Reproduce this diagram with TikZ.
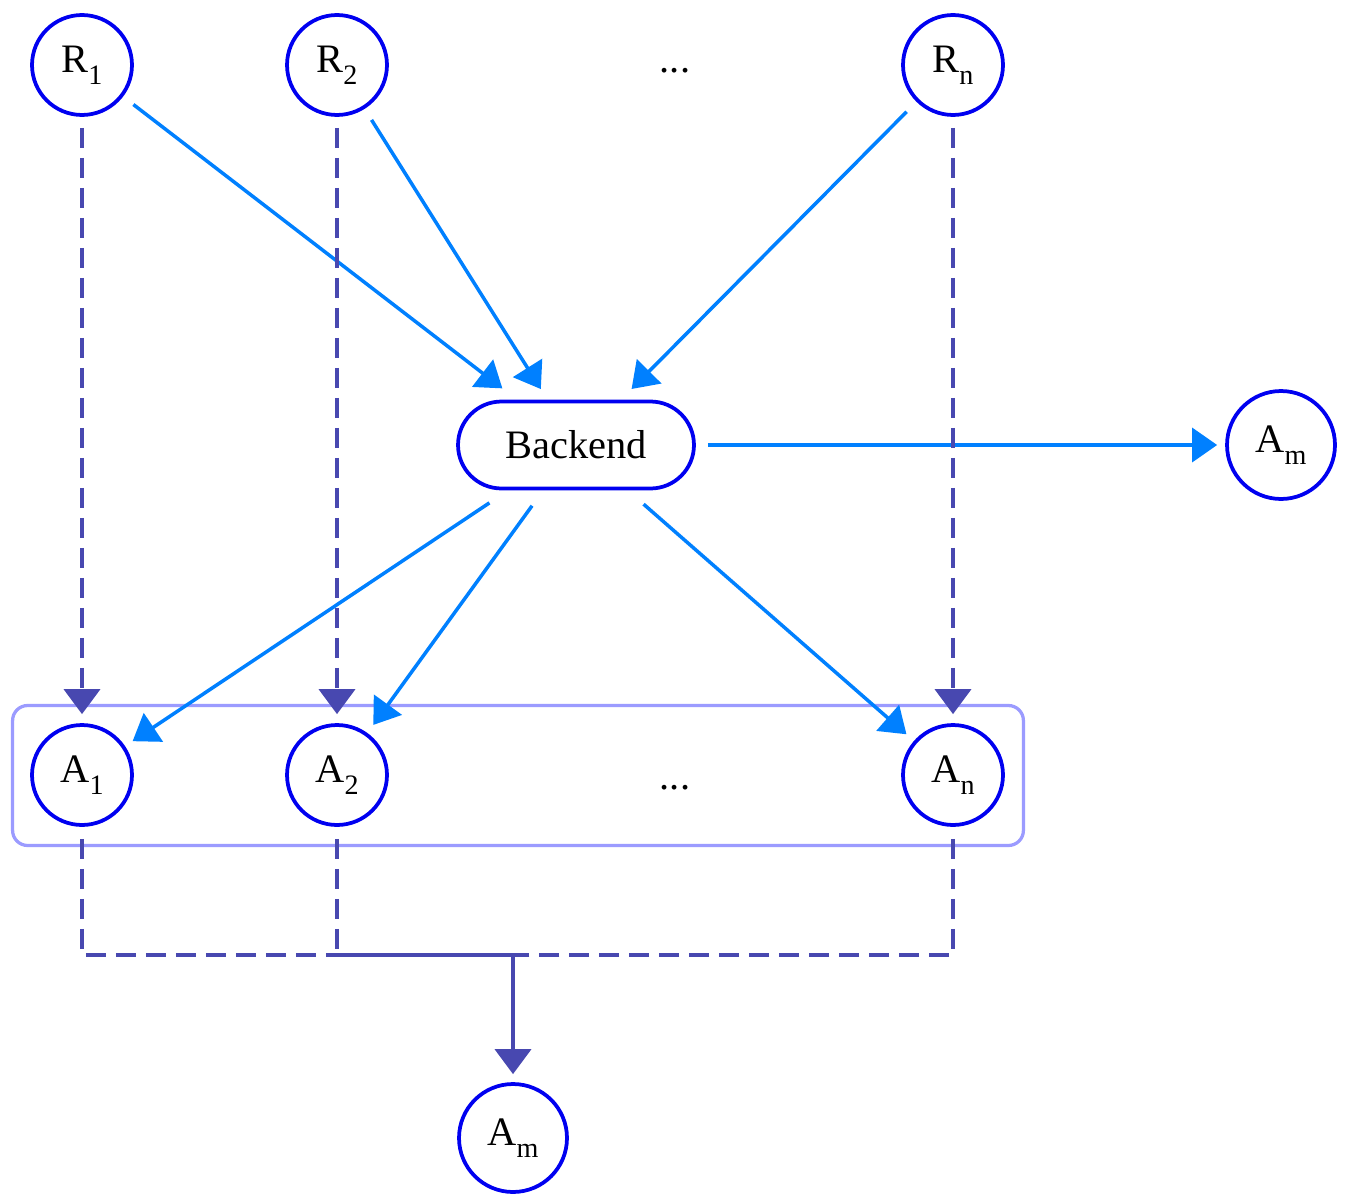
\documentclass[tikz,border=0pt]{standalone}
\usepackage{fontspec}
\setmainfont{Liberation Serif}
\usetikzlibrary{arrows.meta}
\definecolor{nodeblue}{RGB}{0,0,240}
\definecolor{arrblue}{RGB}{0,128,255}
\definecolor{dashcol}{RGB}{72,72,176}
\definecolor{grpcol}{RGB}{155,155,255}
\newcommand{\sbs}[1]{\raisebox{-0.24cm}{\fontsize{16}{16}\selectfont #1}}
\begin{document}
\begin{tikzpicture}[x=0.02cm,y=-0.02cm,
  every node/.style={font=\fontsize{23}{27}\selectfont},
  circ/.style={circle, draw=nodeblue, line width=0.075cm, fill=white, inner sep=0pt, minimum size=2cm},
  amcirc/.style={circ, minimum size=2.16cm},
  backendbox/.style={rectangle, rounded corners=0.87cm, draw=nodeblue, line width=0.075cm, fill=white, minimum width=4.72cm, minimum height=1.74cm, inner sep=0pt},
  grpbox/.style={rectangle, rounded corners=0.3cm, draw=grpcol, line width=0.065cm, minimum width=20.22cm, minimum height=2.8cm, inner sep=0pt},
  flow/.style={color=arrblue, line width=0.07cm, -{Triangle[length=0.5cm,width=0.68cm]}},
  dline/.style={color=dashcol, line width=0.078cm, dash pattern=on 0.4cm off 0.2cm},
  dflow/.style={dline, -{Triangle[length=0.5cm,width=0.72cm]}},
  sflow/.style={color=dashcol, line width=0.078cm, -{Triangle[length=0.5cm,width=0.72cm]}}
]
\useasboundingbox (0,0) rectangle (1345,1193);
% group box
\node[grpbox] (grp) at (518,775.5) {};
% nodes
\node[circ] (R1) at (82,65) {R\sbs{1}};
\node[circ] (R2) at (337,65) {R\sbs{2}};
\node[anchor=base] (rdots) at (675,72) {...};
\node[circ] (Rn) at (953,65) {R\sbs{n}};
\node[backendbox] (B) at (576,445) {Backend};
\node[amcirc] (Amr) at (1281,445) {A\sbs{m}};
\node[circ] (A1) at (82,775) {A\sbs{1}};
\node[circ] (A2) at (337,775) {A\sbs{2}};
\node[anchor=base] (adots) at (675,789) {...};
\node[circ] (An) at (953,775) {A\sbs{n}};
\node[amcirc] (Amb) at (513,1138) {A\sbs{m}};
\coordinate (J) at (513,955);
% blue flows
\draw[flow, shorten <=0.26cm, shorten >=0.37cm] (R1) -- (B);
\draw[flow, shorten <=0.26cm, shorten >=0.25cm] (R2) -- (B);
\draw[flow, shorten <=0.28cm, shorten >=0.3cm] (Rn) -- (B);
\draw[flow, shorten <=0.24cm, shorten >=0.16cm] (B) -- (Amr);
\draw[flow, shorten <=0.45cm, shorten >=0.18cm] (B) -- (A1);
\draw[flow, shorten <=0.38cm, shorten >=0.2cm] (B) -- (A2);
\draw[flow, shorten <=0.42cm, shorten >=0.2cm] (B) -- (An);
% dashed flows
\draw[dflow, shorten <=0.22cm, shorten >=0.18cm] (R1) -- (A1);
\draw[dflow, shorten <=0.22cm, shorten >=0.18cm] (R2) -- (A2);
\draw[dflow, shorten <=0.22cm, shorten >=0.18cm] (Rn) -- (An);
\draw[dline, shorten <=0.24cm] (A1) |- (J);
\draw[dline, shorten <=0.24cm] (A2) |- (J);
\draw[dline, shorten <=0.24cm] (An) |- (J);
\draw[sflow, shorten >=0.16cm] (J) -- (Amb);
\end{tikzpicture}
\end{document}
